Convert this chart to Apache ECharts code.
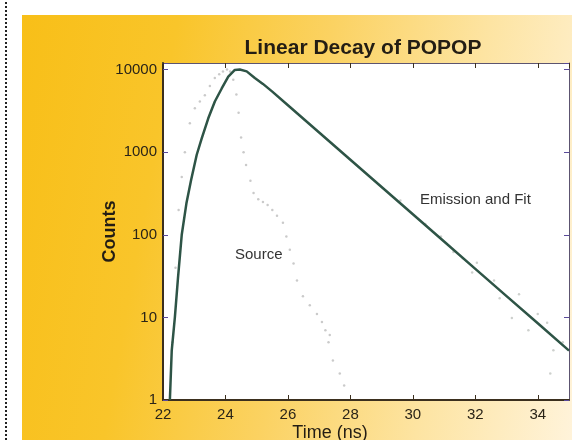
<!DOCTYPE html>
<html>
<head>
<meta charset="utf-8">
<script src="https://cdn.jsdelivr.net/npm/echarts@6/dist/echarts.min.js"></script>
<style>
  html, body { margin: 0; padding: 0; background: #fff; }
  #wrap { position: relative; width: 572px; height: 440px; overflow: hidden; }
  #dots { position: absolute; left: 5px; top: 2px; width: 0; height: 438px; border-left: 2px dotted #222; }
  #panel { position: absolute; left: 22px; top: 15px; width: 550px; height: 425px;
    background: linear-gradient(100deg, #f8bf18 0%, #f9c52a 25%, #fbd262 50%, #fde4a2 75%, #fff3da 100%); }
  #chart { position: absolute; left: 0; top: 0; width: 572px; height: 440px; }
</style>
</head>
<body>
<div id="wrap">
  <div id="dots"></div>
  <div id="panel"></div>
  <div id="chart"></div>
</div>
<script>
// Fitted emission curve: time (ns) and counts
const fitTime   = [22.22, 22.28, 22.38, 22.48, 22.6, 22.75, 22.9, 23.08, 23.24, 23.45, 23.66, 23.88, 24.09, 24.3, 24.46, 24.68, 24.94, 25.2, 25.5, 26.0, 27.0, 28.0, 29.0, 30.0, 31.0, 32.0, 33.0, 34.0, 35.0];
const fitCounts = [1, 4, 10, 30, 100, 240, 460, 930, 1470, 2570, 4100, 5900, 8200, 9900, 10000, 9500, 7900, 6700, 5400, 3700, 1730, 809, 378, 177, 83, 38.7, 18.1, 8.5, 3.96];

// Source (instrument response) data points
const sourceTime   = [22.3, 22.4, 22.5, 22.6, 22.7, 22.86, 23.02, 23.18, 23.34, 23.5, 23.66, 23.8, 23.92, 24.05, 24.15, 24.25, 24.35, 24.42, 24.5, 24.58, 24.66, 24.8, 24.9, 25.05, 25.2, 25.35, 25.5, 25.65, 25.84, 25.95, 26.06, 26.18, 26.29, 26.48, 26.7, 26.93, 27.09, 27.2, 27.3, 27.34, 27.44, 27.66, 27.8];
const sourceCounts = [5, 40, 200, 500, 1000, 2240, 3400, 4100, 4900, 6300, 7900, 8800, 9500, 10000, 9500, 7500, 5000, 3000, 1500, 1000, 700, 450, 320, 270, 250, 230, 200, 170, 140, 95, 66, 45, 28, 18, 14, 11, 8.8, 7, 5, 6.1, 3, 2.1, 1.5];

// Emission data points scattered about the fit (visible in the tail)
const emisTime   = [29.6, 30.4, 30.9, 31.3, 31.6, 31.9, 32.05, 32.6, 32.78, 33.17, 33.4, 33.7, 34.0, 34.3, 34.5, 34.4, 34.8];
const emisCounts = [260, 135, 95, 62, 52, 35, 46, 28, 17, 9.8, 19, 7, 11, 8.6, 4, 2.1, 5];

// Axis ticks
const xTicks = [22, 24, 26, 28, 30, 32, 34];
const yTicks = [1, 10, 100, 1000, 10000];

const pair = (xs, ys) => xs.map((x, i) => [x, ys[i]]);

const chart = echarts.init(document.getElementById('chart'), null, { renderer: 'canvas' });
const FONT = '"Liberation Sans", Arial, sans-serif';
const isYTick = v => yTicks.some(t => Math.abs(t - v) < 1e-6 * t);
const isXTick = v => xTicks.some(t => Math.abs(t - v) < 1e-6);

chart.setOption({
  animation: false,
  backgroundColor: 'transparent',
  title: {
    text: 'Linear Decay of POPOP',
    left: 358, top: 33, textAlign: 'center',
    textStyle: { fontFamily: FONT, fontSize: 21, fontWeight: 'bold', color: '#231d14' }
  },
  grid: { left: 163, right: 3, top: 63, bottom: 40, outerBoundsMode: 'none', containLabel: false,
    show: true, backgroundColor: '#ffffff', borderWidth: 0 },
  xAxis: [{
    type: 'value', min: 22, max: 35, interval: 2, position: 'bottom',
    name: 'Time (ns)', nameLocation: 'middle', nameGap: 24, nameMoveOverlap: false,
    nameTextStyle: { fontFamily: FONT, fontSize: 18, color: '#231d14', padding: [0, 72, 0, 0] },
    axisLine: { onZero: false, lineStyle: { color: '#3b2f1e', width: 2 } },
    axisTick: { inside: true, length: 5, lineStyle: { color: '#3b2f1e' } },
    axisLabel: { margin: 7, fontFamily: FONT, fontSize: 15, color: '#2a2418', formatter: v => isXTick(v) ? String(v) : '' , showMaxLabel: false},
    splitLine: { show: false }
  }, {
    type: 'value', min: 22, max: 35, interval: 2, position: 'top',
    axisLine: { onZero: false, lineStyle: { color: '#5c5470', width: 1 } },
    axisTick: { inside: true, length: 5, lineStyle: { color: '#3b2f1e' } },
    axisLabel: { show: false }, splitLine: { show: false }
  }],
  yAxis: [{
    type: 'log', logBase: 10, min: 1, max: 12000, position: 'left',
    name: 'Counts', nameLocation: 'middle', nameGap: 44, nameRotate: 90, nameMoveOverlap: false,
    nameTextStyle: { fontFamily: FONT, fontSize: 18, fontWeight: 'bold', color: '#231d14' },
    axisLine: { onZero: false, lineStyle: { color: '#3b2f1e', width: 2 } },
    axisTick: { inside: true, length: 5, lineStyle: { color: '#5a4a9a' } },
    axisLabel: { margin: 6, fontFamily: FONT, fontSize: 15, color: '#2a2418', formatter: v => isYTick(v) ? String(Math.round(v)) : '' },
    splitLine: { show: false }
  }, {
    type: 'log', logBase: 10, min: 1, max: 12000, position: 'right',
    axisLine: { onZero: false, lineStyle: { color: '#5c5470', width: 1 } },
    axisTick: { inside: true, length: 5, lineStyle: { color: '#5a4a9a' } },
    axisLabel: { show: false }, splitLine: { show: false }
  }],
  graphic: [
    { type: 'text', left: 420, top: 192, style: { text: 'Emission and Fit', fontFamily: FONT, fontSize: 15, fill: '#333' } },
    { type: 'text', left: 235, top: 247, style: { text: 'Source', fontFamily: FONT, fontSize: 15, fill: '#333' } }
  ],
  series: [{
    name: 'Source', type: 'scatter', xAxisIndex: 0, yAxisIndex: 0,
    data: pair(sourceTime, sourceCounts), symbol: 'circle', symbolSize: 2.5,
    itemStyle: { color: '#bdbdbd' }, z: 2
  }, {
    name: 'Emission', type: 'scatter', xAxisIndex: 0, yAxisIndex: 0,
    data: pair(emisTime, emisCounts), symbol: 'circle', symbolSize: 2.5,
    itemStyle: { color: '#c0c4c0' }, z: 2
  }, {
    name: 'Fit', type: 'line', xAxisIndex: 0, yAxisIndex: 0,
    data: pair(fitTime, fitCounts), smooth: false, showSymbol: false,
    lineStyle: { color: '#2e5446', width: 2.5, join: 'round' }, z: 3
  }]
});
</script>
</body>
</html>
